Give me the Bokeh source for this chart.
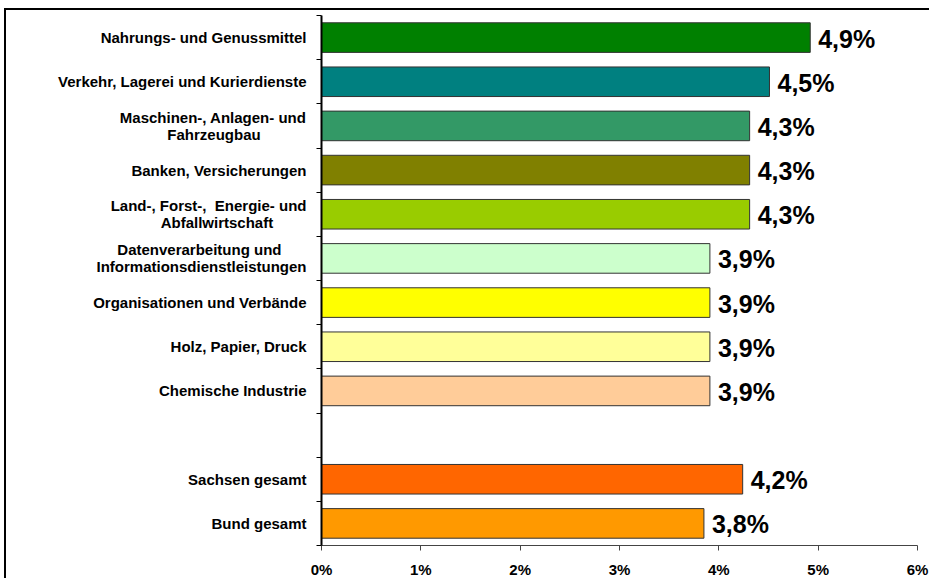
from bokeh.plotting import figure
from bokeh.models import ColumnDataSource, Range1d, FixedTicker
from bokeh.core.properties import value
from bokeh.embed import file_html
from bokeh.resources import INLINE

NB = "\u00a0"

# ---- data ----
categories = [
    "Nahrungs- und Genussmittel",
    "Verkehr, Lagerei und Kurierdienste",
    "Maschinen-, Anlagen- und\nFahrzeugbau",
    "Banken, Versicherungen",
    "Land-, Forst-,  Energie- und\nAbfallwirtschaft",
    "Datenverarbeitung und\nInformationsdienstleistungen",
    "Organisationen und Verbände",
    "Holz, Papier, Druck",
    "Chemische Industrie",
    "",
    "Sachsen gesamt",
    "Bund gesamt",
]
values = [4.92, 4.51, 4.31, 4.31, 4.31, 3.91, 3.91, 3.91, 3.91, None, 4.24, 3.85]
value_labels = ["4,9%", "4,5%", "4,3%", "4,3%", "4,3%", "3,9%", "3,9%", "3,9%", "3,9%", "", "4,2%", "3,8%"]
colors = ["#008000", "#008080", "#339966", "#808000", "#99CC00", "#CCFFCC",
          "#FFFF00", "#FFFF99", "#FFCC99", None, "#FF6600", "#FF9900"]
x_ticks = [0, 1, 2, 3, 4, 5, 6]
x_tick_labels = ["0%", "1%", "2%", "3%", "4%", "5%", "6%"]

# right-padding (non-breaking spaces) per line so that two-line labels look centred
line_pad = {2: [0, 11], 4: [0, 8], 5: [6, 0]}


def tick_text(i, s):
    lines = s.split("\n")
    pads = line_pad.get(i, [0] * len(lines))
    lines = [ln.replace("  ", " " + NB) + NB * k for ln, k in zip(lines, pads)]
    return "\n".join(lines)


idx = [i for i, v in enumerate(values) if v is not None]
src = ColumnDataSource(dict(
    y=idx,
    v=[values[i] for i in idx],
    c=[colors[i] for i in idx],
    lab=[value_labels[i] for i in idx],
))

n = len(categories)
FONT = "Liberation Sans"

p = figure(width=925, height=570, output_backend="svg", toolbar_location=None,
           x_range=Range1d(0, 6), y_range=Range1d(n - 0.5, -0.5),
           min_border_left=315, min_border_top=5, min_border_right=14, min_border_bottom=30)
p.styles = {"margin-left": "4px", "margin-top": "8px",
            "border-top": "2px solid black", "border-left": "2px solid black"}
p.outline_line_color = None
p.xgrid.grid_line_color = None
p.ygrid.grid_line_color = None

p.hbar(y="y", right="v", left=0, height=0.67, fill_color="c", line_color="#333333",
       line_width=1, source=src)
p.text(x="v", y="y", text="lab", source=src, x_offset=8, y_offset=1,
       text_baseline="middle", text_align="left", text_font=value(FONT),
       text_font_style="bold", text_font_size="25px", text_color="black")

# x axis
xa = p.xaxis[0]
xa.ticker = FixedTicker(ticks=x_ticks)
xa.major_label_overrides = {t: l for t, l in zip(x_ticks, x_tick_labels)}
xa.major_label_text_font = FONT
xa.major_label_text_font_style = "bold"
xa.major_label_text_font_size = "15px"
xa.major_label_text_color = "black"
xa.axis_line_color = "#444444"
xa.axis_line_width = 1
xa.major_tick_out = 5
xa.major_tick_in = 0
xa.major_tick_line_color = "#444444"
xa.minor_tick_line_color = None
xa.major_label_standoff = 10

# y axis: labels at centres, ticks at boundaries
ya = p.yaxis[0]
ya.ticker = FixedTicker(ticks=list(range(n)), minor_ticks=[i - 0.5 for i in range(n + 1)])
ya.major_label_overrides = {i: tick_text(i, c) for i, c in enumerate(categories)}
ya.major_label_text_font = FONT
ya.major_label_text_font_style = "bold"
ya.major_label_text_font_size = "15px"
ya.major_label_text_color = "black"
ya.major_label_text_line_height = 1.0
ya.major_tick_out = 0
ya.major_tick_in = 0
ya.minor_tick_out = 5
ya.minor_tick_in = 0
ya.minor_tick_line_color = "black"
ya.axis_line_color = "black"
ya.axis_line_width = 2
ya.major_label_standoff = 10

open("out.html", "w").write(file_html(p, INLINE))
